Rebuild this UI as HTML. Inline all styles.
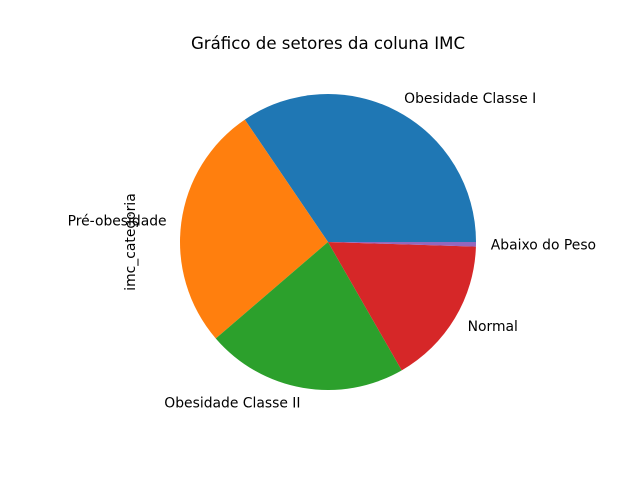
<!DOCTYPE html>
<html><head><meta charset="utf-8"><style>
body{margin:0;background:#fff;}
svg text{font-family:"DejaVu Sans","Liberation Sans",sans-serif;}
</style></head><body>
<svg id="chart" width="640" height="480" xmlns="http://www.w3.org/2000/svg">
<rect width="640" height="480" fill="#fff"/>
<text x="328" y="49" font-size="16.6" text-anchor="middle" fill="#000">Gráfico de setores da coluna IMC</text>
<text transform="translate(135,242) rotate(-90)" font-size="13.9" text-anchor="middle" fill="#000">imc_categoria</text>
<g id="slices"></g>
<g id="labels"></g>
</svg>
<script>
const categories = ["Obesidade Classe I","Pré-obesidade","Obesidade Classe II","Normal","Abaixo do Peso"];
const values = [345, 268, 220, 162, 5];
const colors = ["#1f77b4","#ff7f0e","#2ca02c","#d62728","#9467bd"];
const cx = 328, cy = 242, r = 148;
const NS = "http://www.w3.org/2000/svg";
const total = values.reduce((a,b)=>a+b,0);
const sg = document.getElementById('slices'), lg = document.getElementById('labels');
let a0 = 0;
values.forEach((v,i)=>{
  const a1 = a0 + v/total*2*Math.PI;
  const x0 = cx + r*Math.cos(a0), y0 = cy - r*Math.sin(a0);
  const x1 = cx + r*Math.cos(a1), y1 = cy - r*Math.sin(a1);
  const large = (a1-a0) > Math.PI ? 1 : 0;
  const p = document.createElementNS(NS,'path');
  p.setAttribute('d',`M${cx},${cy} L${x0},${y0} A${r},${r} 0 ${large} 0 ${x1},${y1} Z`);
  p.setAttribute('fill',colors[i]);
  
  
  sg.appendChild(p);
  const am = (a0+a1)/2;
  const lx = cx + 1.1*r*Math.cos(am), ly = cy - 1.1*r*Math.sin(am);
  const t = document.createElementNS(NS,'text');
  t.setAttribute('x',lx); t.setAttribute('y',ly+5);
  t.setAttribute('font-size','13.9');
  t.setAttribute('text-anchor', Math.cos(am) >= 0 ? 'start' : 'end');
  t.textContent = categories[i];
  
  
  lg.appendChild(t);
  a0 = a1;
});
</script>
</body></html>
